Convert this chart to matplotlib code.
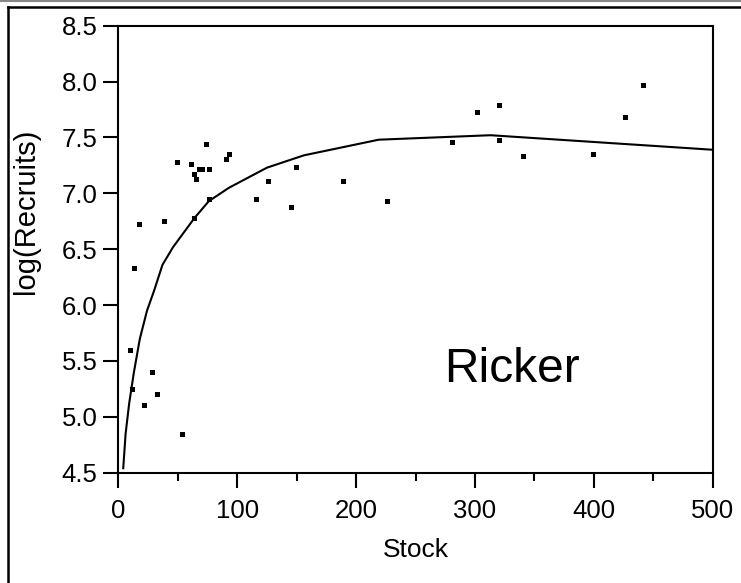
import numpy as np
import matplotlib
matplotlib.use("Agg")
import matplotlib.pyplot as plt
from matplotlib.lines import Line2D
from matplotlib.ticker import MultipleLocator

plt.rcParams['font.family'] = ['Liberation Sans', 'DejaVu Sans']

# beobachtete Werte (Stock, log(Recruits))
stock = [49, 73.9, 61.3, 63.5, 65.5, 67.7, 70.0, 75.9, 90.5, 92.7,
         17.5, 38.5, 63.8, 75.9, 13.3, 115.7, 126, 144.9, 149.1, 188.7,
         225.9, 280.4, 301.4, 319.9, 319.9,
         340.6, 399.3, 426.2, 441.1,
         9.4, 11.6, 27.9, 21.7, 32.1, 53.2]
logrec = [7.28, 7.44, 7.26, 7.17, 7.13, 7.22, 7.22, 7.22, 7.31, 7.35,
          6.73, 6.75, 6.78, 6.95, 6.33, 6.95, 7.11, 6.88, 7.24, 7.11,
          6.93, 7.46, 7.73, 7.79, 7.48,
          7.33, 7.35, 7.68, 7.97,
          5.60, 5.25, 5.40, 5.11, 5.20, 4.85]

# Ricker-Kurve
kurve_x = [4, 6, 9, 13, 18, 24, 30, 37, 46, 64, 76, 93, 125, 156, 219, 313, 500]
kurve_y = [4.54, 4.85, 5.12, 5.40, 5.70, 5.95, 6.13, 6.36, 6.52, 6.78, 6.93,
           7.05, 7.23, 7.34, 7.48, 7.52, 7.39]

fig = plt.figure(figsize=(7.41, 5.83), dpi=100)
ax = fig.add_axes([0.1599, 0.1892, 0.8019, 0.7667])

ax.plot(kurve_x, kurve_y, "-k", lw=1.5, clip_on=False)
ax.plot(stock, logrec, "sk", ms=3.6, mew=0)

ax.set_xlim(0, 500)
ax.set_ylim(4.5, 8.5)
ax.xaxis.set_major_locator(MultipleLocator(100))
ax.xaxis.set_minor_locator(MultipleLocator(50))
ax.yaxis.set_major_locator(MultipleLocator(0.5))
ax.yaxis.set_major_formatter(matplotlib.ticker.FormatStrFormatter("%.1f"))
ax.tick_params(which="major", direction="out", length=11, width=1.5,
               labelsize=18.5, pad=4, colors="black")
ax.tick_params(axis="x", which="major", pad=8)
ax.tick_params(which="minor", direction="out", length=6, width=1.5)
for s in ax.spines.values():
    s.set_linewidth(1.5)

ax.set_xlabel("Stock", fontsize=19, labelpad=11)
ax.set_ylabel("log(Recruits)", fontsize=21)
ax.yaxis.set_label_coords(-0.132, 0.585)

ax.text(331, 5.31, "Ricker", fontsize=34.5, ha="center", va="baseline")

# Rahmen
fig.add_artist(Line2D([0, 1], [1 - 1/583, 1 - 1/583], color="#888888", lw=1.5))
fig.add_artist(Line2D([8/741, 1], [1 - 7/583, 1 - 7/583], color="black", lw=1.8))
fig.add_artist(Line2D([8/741, 8/741], [0, 1 - 7/583], color="black", lw=1.8))

fig.savefig("out.png", dpi=100)
